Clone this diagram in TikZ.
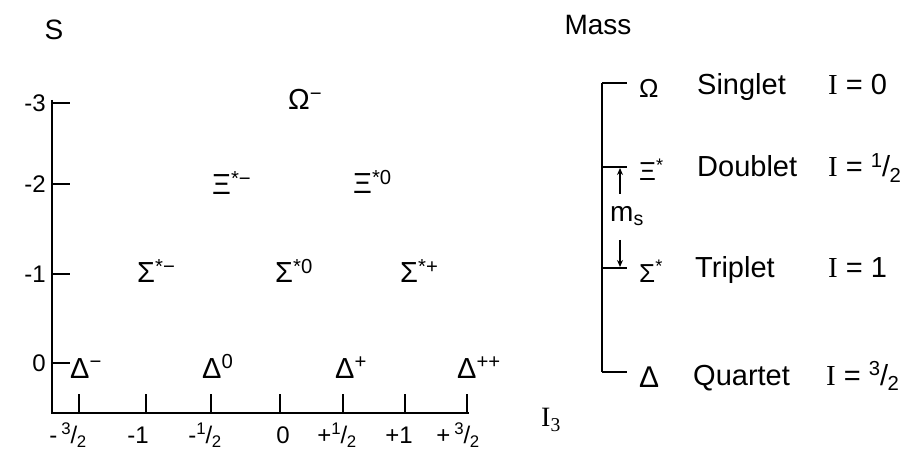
\documentclass[tikz,border=0pt]{standalone}
\usepackage{fontspec}
\setmainfont{Liberation Sans}
\newfontfamily\serifI{Liberation Serif}
\usetikzlibrary{arrows.meta}
\newcommand\hf[2]{\textsuperscript{#1}\kern-0.02em/\kern-0.02em\textsubscript{#2}}
\newcommand\sI{{\serifI I}}
\begin{document}
\begin{tikzpicture}[x=1pt,y=-1pt,
  part/.style={font=\fontsize{29}{31}\selectfont, inner sep=0pt, anchor=base west},
  ticklab/.style={font=\fontsize{24}{26}\selectfont, inner sep=0pt},
  rlab/.style={font=\fontsize{29}{31}\selectfont, inner sep=0pt, anchor=base west},
  rgreek/.style={font=\fontsize{26}{28}\selectfont, inner sep=0pt, anchor=base west},
  axisline/.style={line width=2pt},
  tickline/.style={line width=1.6pt},
  massline/.style={line width=1.6pt}]
\useasboundingbox (0,0) rectangle (913,449);

% axes
\coordinate (T) at (52,100);
\coordinate (O) at (52,413);
\coordinate (E) at (469,413);
\draw[axisline] (T) -- (O) -- (E);

% y ticks
\foreach \y/\n/\l in {103/ym3/-3,184/ym2/-2,274/ym1/-1,363/y0/0}{
  \coordinate (\n) at (52,\y);
  \draw[tickline] (\n) -- ++(18,0);
  \node[ticklab,anchor=east] (\n lab) at (46,\y) {\l};
}
% x ticks
\foreach \x/\n in {79/xa,146/xb,211/xc,280/xd,343/xe,405/xf,467/xg}{
  \coordinate (\n) at (\x,413);
  \draw[tickline] (\n) -- ++(0,-19);
}
\node[ticklab] (xalab) at (68,435) {-\,\hf{3}{2}};
\node[ticklab] (xblab) at (138,435) {-1};
\node[ticklab] (xclab) at (205,435) {-\hf{1}{2}};
\node[ticklab] (xdlab) at (283,435) {0};
\node[ticklab] (xelab) at (337,435) {+\hf{1}{2}};
\node[ticklab] (xflab) at (399,435) {+1};
\node[ticklab] (xglab) at (458,435) {+\,\hf{3}{2}};
\node[ticklab,font=\fontsize{28}{30}\selectfont\serifI] (I3) at (551,420) {I\textsubscript{3}};

% axis titles
\node[ticklab,font=\fontsize{28}{30}\selectfont] (S) at (54,30) {S};
\node[ticklab,font=\fontsize{28}{30}\selectfont] (Mass) at (598,25) {Mass};

% particles
\node[part] (Om) at (288,110) {Ω\textsuperscript{−}};
\node[part] (Xm) at (212,195) {Ξ\textsuperscript{*−}};
\node[part] (X0) at (353,194) {Ξ\textsuperscript{*0}};
\node[part] (Sm) at (137,283) {Σ\textsuperscript{*−}};
\node[part] (S0) at (275,283) {Σ\textsuperscript{*0}};
\node[part] (Sp) at (400,283) {Σ\textsuperscript{*+}};
\node[part] (Dm) at (70,378) {Δ\textsuperscript{−}};
\node[part] (D0) at (202,378) {Δ\textsuperscript{0}};
\node[part] (Dp) at (335,378) {Δ\textsuperscript{+}};
\node[part] (Dpp) at (457,378) {Δ\textsuperscript{++}};

% mass diagram
\coordinate (mO) at (602,83);
\coordinate (mX) at (602,167);
\coordinate (mS) at (602,268);
\coordinate (mD) at (602,372);
\draw[massline] (mO) -- (mD);
\draw[line width=1.2pt] (mO) -- ++(25,0);
\draw[line width=2.4pt] (mX) -- ++(25,0);
\draw[line width=2.4pt] (mS) -- ++(25,0);
\draw[massline] (mD) -- ++(25,0);
\coordinate (arA) at (620,194);
\coordinate (arAe) at (620,168);
\coordinate (arB) at (620,240);
\coordinate (arBe) at (620,267);
\draw[line width=1.2pt,-{Stealth[length=7pt,width=6pt]}] (arA) -- (arAe);
\draw[line width=1.2pt,-{Stealth[length=7pt,width=6pt]}] (arB) -- (arBe);
\node[inner sep=0pt,font=\fontsize{28}{30}\selectfont] (ms) at (627,216) {m\textsubscript{s}};

\node[rgreek] (rOm) at (639,98) {Ω};
\node[rgreek] (rXi) at (639,181) {Ξ\textsuperscript{*}};
\node[rgreek] (rSi) at (639,282) {Σ\textsuperscript{*}};
\node[rgreek,font=\fontsize{30}{32}\selectfont] (rDe) at (639,387) {Δ};

\node[rlab] (sing) at (697,95) {Singlet};
\node[rlab] (doub) at (697,177) {Doublet};
\node[rlab] (trip) at (695,277) {Triplet};
\node[rlab] (quar) at (693,385) {Quartet};

\node[rlab] (i0) at (828,95) {\sI\ = 0};
\node[rlab] (i12) at (828,177) {\sI\ = \hf{1}{2}};
\node[rlab] (i1) at (828,277) {\sI\ = 1};
\node[rlab] (i32) at (826,385) {\sI\ = \hf{3}{2}};
\end{tikzpicture}
\end{document}
